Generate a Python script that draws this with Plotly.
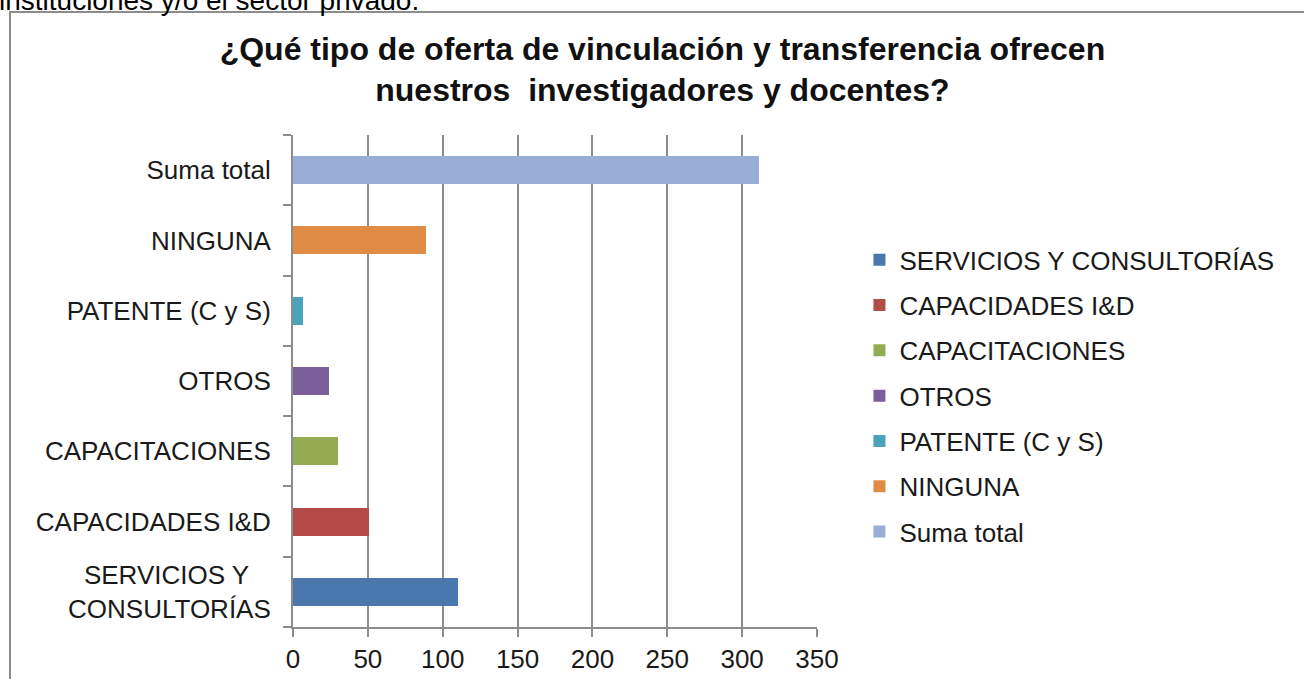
import plotly.graph_objects as go

categorias = ["SERVICIOS Y&nbsp;&nbsp;&nbsp;<br>CONSULTORÍAS", "CAPACIDADES I&D", "CAPACITACIONES",
              "OTROS", "PATENTE (C y S)", "NINGUNA", "Suma total"]
leyenda = ["SERVICIOS Y CONSULTORÍAS", "CAPACIDADES I&D", "CAPACITACIONES",
           "OTROS", "PATENTE (C y S)", "NINGUNA", "Suma total"]
valores = [110, 51, 30, 24, 7, 89, 311]
colores = ["#4a78ae", "#b34c49", "#93ab52", "#7b5f9b", "#48a3bb", "#e08c44", "#98aed6"]
ticks_x = [0, 50, 100, 150, 200, 250, 300, 350]

fuente = "Liberation Sans, Arial, sans-serif"

fig = go.Figure()
for cat, nom, v, c in zip(categorias, leyenda, valores, colores):
    fig.add_trace(go.Bar(y=[cat], x=[v], name=nom, orientation="h",
                         marker=dict(color=c, line=dict(width=0)),
                         legendgroup=nom))

fig.update_layout(
    width=1304, height=679,
    margin=dict(l=293, r=487, t=135, b=52, autoexpand=False),
    paper_bgcolor="white", plot_bgcolor="white",
    barmode="stack", bargap=0.6,
    font=dict(family=fuente, size=26, color="#1a1a1a"),
    title=dict(text="<b>¿Qué tipo de oferta de vinculación y transferencia ofrecen<br>nuestros  investigadores y docentes?</b>",
               x=0.508, xanchor="center", y=0.912, yanchor="top",
               font=dict(family=fuente, size=32, color="#111")),
    legend=dict(x=1.081, xanchor="left", y=0.794, yanchor="top",
                traceorder="grouped", tracegroupgap=8.5,
                font=dict(family=fuente, size=26, color="#1a1a1a"),
                itemwidth=30),
    showlegend=True,
)
fig.update_xaxes(range=[0, 350], tickvals=ticks_x, showgrid=True,
                 gridcolor="#8c8c8c", gridwidth=2, showline=True,
                 linecolor="#8c8c8c", linewidth=2, ticks="outside",
                 ticklen=8, tickcolor="#8c8c8c", tickwidth=2, zeroline=False,
                 automargin=False)
fig.update_yaxes(categoryorder="array", categoryarray=categorias,
                 showline=True, linecolor="#8c8c8c", linewidth=2,
                 ticks="outside", tickson="boundaries", ticklen=8,
                 tickcolor="#8c8c8c", tickwidth=2, showgrid=False,
                 ticklabelstandoff=15, automargin=False)

# marco del gráfico
fig.add_shape(type="rect", xref="paper", yref="paper",
              x0=(10 - 293) / 524, x1=(1320 - 293) / 524,
              y0=(627 - 700) / 492, y1=(627 - 12) / 492,
              line=dict(color="#8c8c8c", width=2), layer="below")

# texto del documento cortado arriba
fig.add_annotation(text="instituciones y/o el sector privado.", xref="paper", yref="paper",
                   x=(-3 - 293) / 524, xanchor="left", y=(627 - 18) / 492, yanchor="bottom",
                   showarrow=False, font=dict(family=fuente, size=28, color="#000"))

fig.write_html("out.html", config={"displayModeBar": False},
               post_script="document.body.style.margin='0';")
